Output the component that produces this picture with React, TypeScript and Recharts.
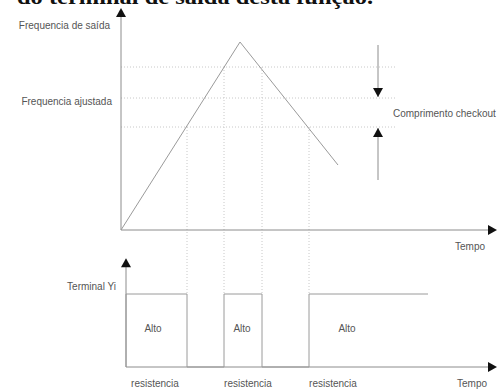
import { ComposedChart, Line, XAxis, YAxis, ReferenceLine, ReferenceDot } from 'recharts';

// time in arbitrary units, frequency in arbitrary units
const rampTimes = [0, 11.9, 21.7];
const rampFreqs = [0, 18.8, 6.5];

// dotted frequency levels: upper, "ajustada", lower
const freqLevels = [16.3, 13.2, 10.3];
const levelEnd = 27.6;

// where the ramp crosses the levels
const crossTimes = [6.6, 10.3, 14.1, 18.8];
const crossLevels = [10.3, 16.3, 16.3, 10.3];

// terminal Yi output (0 = low, 1 = high)
const yiTimes = [0.5, 0.5, 6.6, 6.6, 10.3, 10.3, 14.1, 14.1, 18.8, 18.8, 30.7];
const yiLevels = [0, 1, 1, 0, 0, 1, 1, 0, 0, 1, 1];

const altoTimes = [3.2, 12.1, 22.6];
const resistTimes = [3.4, 12.7, 21.2];

// "Comprimento checkout" arrows: time, tail levels, tip levels
const checkoutTime = 25.7;
const checkoutTails = [18.5, 5];
const checkoutTips = [13.3, 10.2];

const W = 497;
const H = 390;
const FONT = '"Liberation Sans", Arial, sans-serif';
const TEXT = '#555';
const LINE = '#8c8c8c';
const DOT = '#c8c8c8';

const X_DOMAIN: [number, number] = [-12.1, 37.6];
const F_DOMAIN: [number, number] = [-16, 23];
const S_DOMAIN: [number, number] = [-23 / 73, 367 / 73];

// map a Yi level onto the frequency axis (both axes share the plot height)
const sigToFreq = (s: number) =>
  F_DOMAIN[0] + ((s - S_DOMAIN[0]) / (S_DOMAIN[1] - S_DOMAIN[0])) * (F_DOMAIN[1] - F_DOMAIN[0]);

const rampData = rampTimes.map((t, i) => ({ t, f: rampFreqs[i] }));
const yiData = yiTimes.map((t, i) => ({ t, s: yiLevels[i] }));

type Dir = 'up' | 'down' | 'right';

function Head({ cx, cy, dir }: { cx?: number; cy?: number; dir: Dir }) {
  if (cx == null || cy == null) return null;
  const h = 5;
  const l = 9;
  let pts = '';
  if (dir === 'up') pts = `${cx},${cy} ${cx - h},${cy + l} ${cx + h},${cy + l}`;
  if (dir === 'down') pts = `${cx},${cy} ${cx - h},${cy - l} ${cx + h},${cy - l}`;
  if (dir === 'right') pts = `${cx},${cy} ${cx - l},${cy - h} ${cx - l},${cy + h}`;
  return <polygon points={pts} fill="#111" />;
}

const head = (key: string, x: number, y: number, yAxisId: string, dir: Dir) => (
  <ReferenceDot
    key={key}
    x={x}
    y={y}
    yAxisId={yAxisId}
    r={0}
    ifOverflow="visible"
    shape={(p: any) => <Head cx={p.cx} cy={p.cy} dir={dir} />}
  />
);

const note = (
  key: string,
  x: number,
  y: number,
  yAxisId: string,
  value: string,
  position: 'center' | 'left' | 'right' = 'center'
) => (
  <ReferenceDot
    key={key}
    x={x}
    y={y}
    yAxisId={yAxisId}
    r={0}
    fill="none"
    stroke="none"
    ifOverflow="visible"
    label={{ value, position, offset: 0, fill: TEXT, fontSize: 10, fontFamily: FONT }}
  />
);

const seg = (key: string, x1: number, y1: number, x2: number, y2: number, yAxisId: string, dotted = false) => (
  <ReferenceLine
    key={key}
    yAxisId={yAxisId}
    segment={[{ x: x1, y: y1 }, { x: x2, y: y2 }]}
    stroke={dotted ? DOT : LINE}
    strokeWidth={1}
    strokeDasharray={dotted ? '1 2' : undefined}
    ifOverflow="visible"
  />
);

export default function App() {
  const sigHighInFreq = sigToFreq(1);

  return (
    <div style={{ position: 'absolute', left: 0, top: 0, width: W, height: H, background: '#fff' }}>
      <svg width={W} height={20} style={{ position: 'absolute', left: 0, top: 0 }}>
        <text
          x={17}
          y={4}
          textLength={356}
          lengthAdjust="spacingAndGlyphs"
          fontFamily='"Liberation Serif", "Times New Roman", serif'
          fontWeight="bold"
          fontSize={21}
          fill="#111"
        >
          do terminal de saída desta função.
        </text>
      </svg>
      <div style={{ position: 'absolute', left: 0, top: 0 }}>
        <ComposedChart width={W} height={H} margin={{ top: 0, right: 0, bottom: 0, left: 0 }}>
          <XAxis dataKey="t" type="number" domain={X_DOMAIN} allowDataOverflow hide />
          <YAxis yAxisId="f" type="number" domain={F_DOMAIN} allowDataOverflow hide />
          <YAxis yAxisId="s" type="number" domain={S_DOMAIN} allowDataOverflow hide />

          {/* dotted levels and crossings */}
          {freqLevels.map((lv, i) => seg(`lv${i}`, 0, lv, levelEnd, lv, 'f', true))}
          {crossTimes.map((t, i) => seg(`cx${i}`, t, crossLevels[i], t, sigHighInFreq, 'f', true))}

          {/* top axes */}
          {seg('fy', 0, 0, 0, 21.4, 'f')}
          {seg('fx', 0, 0, 37.0, 0, 'f')}
          {head('fyh', 0, 22.2, 'f', 'up')}
          {head('fxh', 37.6, 0, 'f', 'right')}

          {/* bottom axes */}
          {seg('sy', 0.5, 0, 0.5, 1.4, 's')}
          {seg('sx', 0.5, 0, 37.0, 0, 's')}
          {head('syh', 0.5, 1.49, 's', 'up')}
          {head('sxh', 37.6, 0, 's', 'right')}

          {/* checkout arrows */}
          {checkoutTails.map((tail, i) =>
            seg(`ck${i}`, checkoutTime, tail, checkoutTime, checkoutTips[i], 'f')
          )}
          {head('ck0h', checkoutTime, checkoutTips[0], 'f', 'down')}
          {head('ck1h', checkoutTime, checkoutTips[1], 'f', 'up')}

          <Line
            yAxisId="f"
            data={rampData}
            dataKey="f"
            type="linear"
            stroke="#9a9a9a"
            strokeWidth={1}
            dot={false}
            activeDot={false}
            isAnimationActive={false}
          />
          <Line
            yAxisId="s"
            data={yiData}
            dataKey="s"
            type="linear"
            stroke="#9a9a9a"
            strokeWidth={1}
            dot={false}
            activeDot={false}
            isAnimationActive={false}
          />

          {note('n1', -1.1, 20.5, 'f', 'Frequencia de saída', 'left')}
          {note('n2', -0.9, 12.9, 'f', 'Frequencia ajustada', 'left')}
          {note('n3', 27.2, 11.7, 'f', 'Comprimento checkout', 'right')}
          {note('n4', 34.9, -1.6, 'f', 'Tempo')}
          {note('n5', -0.5, 1.11, 's', 'Terminal Yi', 'left')}
          {note('n6', 35.1, -0.23, 's', 'Tempo')}
          {altoTimes.map((t, i) => note(`a${i}`, t, 0.53, 's', 'Alto'))}
          {resistTimes.map((t, i) => note(`r${i}`, t, -0.23, 's', 'resistencia'))}
        </ComposedChart>
      </div>
    </div>
  );
}
